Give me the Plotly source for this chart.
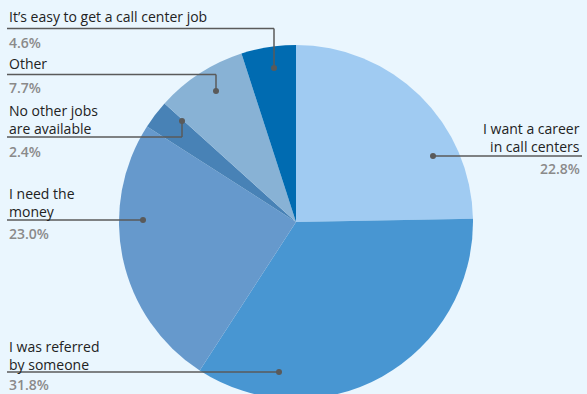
import plotly.graph_objects as go

# Survey answers: why people took a call-center job
reasons = [
    "I want a career in call centers",
    "I was referred by someone",
    "I need the money",
    "No other jobs are available",
    "Other",
    "It\u2019s easy to get a call center job",
]
shares = [22.8, 31.8, 23.0, 2.4, 7.7, 4.6]
label_lines = [
    ["I want a career", "in call centers"],
    ["I was referred", "by someone"],
    ["I need the", "money"],
    ["No other jobs", "are available"],
    ["Other"],
    ["It\u2019s easy to get a call center job"],
]
colors = ["#a0cbf2", "#4896d2", "#6699cc", "#4882b6", "#88b2d5", "#006bb1"]

W, H = 587, 444
BG = "#eaf6fe"
LINE = "#5a5a5a"
TEXT = "#222222"
PCT = "#8a8a8a"
FONT = "Open Sans"
SIZE = 14


def px(x):
    return x / W


def py(y):
    return 1 - y / H


fig = go.Figure(
    go.Pie(
        labels=reasons,
        values=shares,
        sort=False,
        direction="clockwise",
        rotation=0,
        marker=dict(colors=colors, line=dict(width=0)),
        textinfo="none",
        hoverinfo="label+value",
        domain=dict(x=[px(119), px(473)], y=[0, 1]),
        showlegend=False,
    )
)

# Callout layout: label block centre, percent centre, rule y, dot position, side
callouts = [
    dict(label=137, pct=168, rule=156, dot=(433, 156), side="right"),
    dict(label=355, pct=384.5, rule=372, dot=(279, 372), side="left"),
    dict(label=202, pct=234, rule=220, dot=(143, 220), side="left"),
    dict(label=119, pct=151, rule=137, dot=(182, 121), side="left"),
    dict(label=63, pct=88, rule=74.5, dot=(216, 91), side="left"),
    dict(label=17, pct=42, rule=28.5, dot=(274, 68), side="left"),
]
LEFT_X, RIGHT_X = 7, 582

annotations = []
shapes = []
for text_lines, value, c in zip(label_lines, shares, callouts):
    right = c["side"] == "right"
    tx = RIGHT_X if right else LEFT_X
    anchor = "right" if right else "left"
    annotations.append(dict(
        x=px(tx), y=py(c["label"]), xref="paper", yref="paper",
        text="<br>".join(text_lines), align=anchor,
        showarrow=False, xanchor=anchor, yanchor="middle",
        font=dict(family=FONT, size=SIZE, color=TEXT),
    ))
    annotations.append(dict(
        x=px(tx), y=py(c["pct"]), xref="paper", yref="paper",
        text=f"{value:.1f}%", showarrow=False, xanchor=anchor, yanchor="middle",
        font=dict(family=FONT, size=SIZE, color=PCT, weight=600),
    ))
    dx, dy = c["dot"]
    # horizontal rule under the label
    shapes.append(dict(
        type="line", xref="paper", yref="paper",
        x0=px(tx), x1=px(dx), y0=py(c["rule"]), y1=py(c["rule"]),
        line=dict(color=LINE, width=1.5),
    ))
    # elbow down/up to the dot when needed
    if abs(dy - c["rule"]) > 0.5:
        shapes.append(dict(
            type="line", xref="paper", yref="paper",
            x0=px(dx), x1=px(dx), y0=py(c["rule"]), y1=py(dy),
            line=dict(color=LINE, width=1.5),
        ))
    shapes.append(dict(
        type="circle", xref="paper", yref="paper",
        xsizemode="pixel", ysizemode="pixel",
        xanchor=px(dx), yanchor=py(dy), x0=-3, x1=3, y0=-3, y1=3,
        fillcolor=LINE, line=dict(width=0),
    ))

fig.update_layout(
    width=W, height=H,
    margin=dict(l=0, r=0, t=0, b=0),
    paper_bgcolor=BG, plot_bgcolor=BG,
    annotations=annotations, shapes=shapes,
    font=dict(family=FONT),
)

fig.write_html(
    "out.html",
    config=dict(displayModeBar=False),
    post_script="document.body.style.margin='0';document.body.style.overflow='hidden';"
                "document.documentElement.style.overflow='hidden';",
)
